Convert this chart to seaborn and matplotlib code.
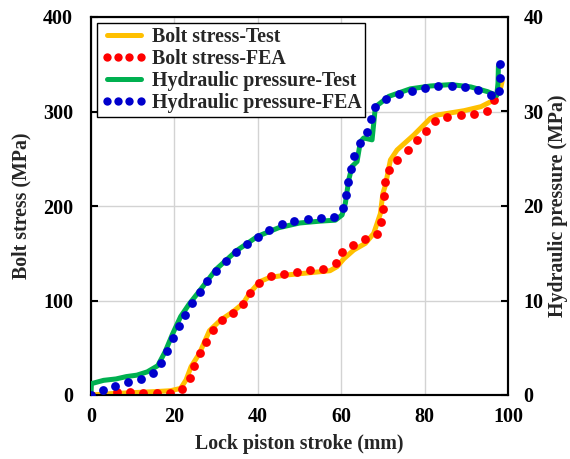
import matplotlib
matplotlib.use("Agg")
import matplotlib.pyplot as plt
from matplotlib.lines import Line2D
import seaborn as sns
import pandas as pd

# ---- data ----
bolt_test_x = [0, 5, 10, 15, 19, 21.5, 22.8, 24, 26, 28.4, 31, 34, 36.5, 38, 40.5, 42.9, 46.9,
               52.5, 57.3, 59, 60.6, 63, 65.8, 67.8, 69.4, 70, 70.6, 71.8, 73.4, 77.4, 81.4,
               83.1, 89.5, 93.5, 96.7, 98.3, 98.6]
bolt_test_y = [0, 1.5, 2.5, 3.5, 4.5, 7, 16, 30, 44, 68, 79, 88, 97, 107.6, 120, 124.5, 127,
               129.4, 131.5, 135.8, 144, 153.4, 160.5, 171, 192, 213.4, 222, 248.7, 259.3,
               275.1, 292.8, 296.3, 300.9, 305.1, 312.2, 326.2, 332]

bolt_fea_x = [0, 6.2, 9.35, 12.5, 15.8, 18.9, 21.9, 23.7, 24.8, 26.1, 27.6, 29.3, 31.4, 34.0,
              36.4, 38.2, 40.4, 43.1, 46.3, 49.4, 52.6, 55.7, 58.7, 60.3, 62.8, 65.7, 68.7,
              69.5, 70.0, 70.3, 70.6, 71.5, 73.5, 75.9, 78.1, 80.3, 82.5, 85.4, 88.7, 91.8,
              94.9, 96.7]
bolt_fea_y = [0, 3.5, 3.5, 1.8, 1.8, 1.8, 6.7, 17.7, 31, 44.1, 56.4, 68.8, 79.4, 87.1, 96,
              107.6, 118.2, 125.9, 128.4, 130.2, 132.3, 133.7, 139.4, 151, 159, 164.9, 170.2,
              182.8, 196.8, 210.9, 224.9, 238.4, 249, 258.9, 269.5, 279.7, 289.9, 294.5, 296,
              297.4, 300.5, 311.8]

hyd_test_x = [0, 0.1, 3, 6, 8.5, 11, 13.5, 16, 17.8, 19.6, 21.5, 23.5, 26, 30, 35, 40, 45, 50,
              55, 58.6, 60.2, 61, 61.8, 62.6, 63.8, 64.6, 65.4, 67.4, 67.8, 68.2, 69.4, 71.4,
              76.6, 81.4, 86.3, 91.1, 95.1, 97.3, 97.6, 97.7]
hyd_test_y = [0, 1.2, 1.55, 1.7, 1.95, 2.1, 2.45, 3.1, 4.6, 6.5, 8.3, 9.6, 11.0, 13.3, 15.3,
              16.8, 17.7, 18.2, 18.4, 18.5, 19.05, 20.3, 22.75, 24.2, 24.7, 26.8, 27.2, 27.0,
              28.75, 30.5, 30.9, 31.6, 32.4, 32.7, 32.85, 32.6, 32.1, 31.7, 33.0, 34.8]

hyd_fea_x = [0, 2.9, 5.8, 8.9, 12.0, 14.8, 16.8, 18.3, 19.7, 21.0, 22.6, 24.3, 26.1, 27.9,
             30.0, 32.3, 34.8, 37.3, 40.0, 42.8, 45.7, 48.8, 52.0, 55.1, 58.3, 60.5, 61.2,
             61.7, 62.3, 63.1, 64.4, 66.1, 67.1, 68.1, 70.8, 73.8, 76.9, 80.0, 83.3, 86.5,
             89.7, 92.9, 95.9, 97.8, 98.1, 98.2]
hyd_fea_y = [0, 0.53, 0.95, 1.34, 1.66, 2.36, 3.42, 4.69, 6.0, 7.3, 8.5, 9.77, 10.9, 12.06,
             13.15, 14.15, 15.1, 15.98, 16.75, 17.46, 18.06, 18.41, 18.62, 18.73, 18.87,
             19.82, 21.16, 22.57, 23.88, 25.29, 26.63, 27.8, 29.17, 30.5, 31.35, 31.82, 32.2,
             32.45, 32.7, 32.73, 32.6, 32.24, 31.71, 32.17, 33.58, 34.99]

labels = ["Bolt stress-Test", "Bolt stress-FEA", "Hydraulic pressure-Test", "Hydraulic pressure-FEA"]
x_ticks = [0, 20, 40, 60, 80, 100]
y_ticks = [0, 100, 200, 300, 400]
y2_ticks = [0, 10, 20, 30, 40]

# ---- styling ----
sns.set_style("white")
plt.rcParams["font.family"] = ["Liberation Serif", "DejaVu Serif"]
plt.rcParams["font.weight"] = "bold"

c_orange = "#FFC000"
c_red = "#FF0000"
c_green = "#00B050"
c_blue = "#0000CC"

fig = plt.figure(figsize=(5.70, 4.59), dpi=100)
ax = fig.add_axes([91/570, 1-395/459, (508-91)/570, (395-17)/459])
ax2 = ax.twinx()

bt = pd.DataFrame({"x": bolt_test_x, "y": bolt_test_y})
bf = pd.DataFrame({"x": bolt_fea_x, "y": bolt_fea_y})
ht = pd.DataFrame({"x": hyd_test_x, "y": hyd_test_y})
hf = pd.DataFrame({"x": hyd_fea_x, "y": hyd_fea_y})

lw = 3.6
ms = 40
sns.lineplot(data=bt, x="x", y="y", sort=False, ax=ax, color=c_orange, linewidth=lw,
             solid_joinstyle="round", solid_capstyle="round", zorder=3)
sns.scatterplot(data=bf, x="x", y="y", ax=ax, color=c_red, s=ms, linewidth=0, zorder=4)
sns.lineplot(data=ht, x="x", y="y", sort=False, ax=ax2, color=c_green, linewidth=lw,
             solid_joinstyle="round", solid_capstyle="round", zorder=3)
sns.scatterplot(data=hf, x="x", y="y", ax=ax2, color=c_blue, s=ms, linewidth=0, zorder=4)

ax.set_xlim(0, 100)
ax.set_ylim(0, 400)
ax2.set_ylim(0, 40)
ax.set_xticks(x_ticks)
ax.set_yticks(y_ticks)
ax2.set_yticks(y2_ticks)

ax.grid(True, color="#d3d3d3", linewidth=1.0)
ax.set_axisbelow(True)

fs_tick = 14.5
fs = 14.3
ax.set_xlabel("Lock piston stroke (mm)", fontsize=fs, fontweight="bold", labelpad=5)
ax.set_ylabel("Bolt stress (MPa)", fontsize=fs, fontweight="bold", labelpad=8)
ax2.set_ylabel("Hydraulic pressure (MPa)", fontsize=fs, fontweight="bold", labelpad=3)

for a in (ax, ax2):
    a.tick_params(direction="in", length=5, width=1.5, labelsize=fs_tick, colors="black")
    for lab in a.get_xticklabels() + a.get_yticklabels():
        lab.set_fontweight("bold")
    for s in a.spines.values():
        s.set_color("black")
        s.set_linewidth(1.5)
ax.tick_params(axis="x", pad=9)
ax2.tick_params(axis="y", right=True, pad=11)
ax.tick_params(axis="y", pad=13)

handles = [
    Line2D([], [], color=c_orange, linewidth=lw),
    Line2D([], [], color=c_red, linestyle="none", marker="o", markersize=6, markeredgewidth=0),
    Line2D([], [], color=c_green, linewidth=lw),
    Line2D([], [], color=c_blue, linestyle="none", marker="o", markersize=6, markeredgewidth=0),
]
leg = ax2.legend(handles, labels, loc="upper left", bbox_to_anchor=(0.0, 1.0),
                 borderaxespad=0.3, numpoints=4, handlelength=2.3, handletextpad=0.25,
                 labelspacing=0.1, borderpad=0.2, fancybox=False, framealpha=1,
                 edgecolor="black", prop={"size": fs, "weight": "bold"})
leg.get_frame().set_linewidth(1.0)

fig.savefig("out.png", dpi=100)
